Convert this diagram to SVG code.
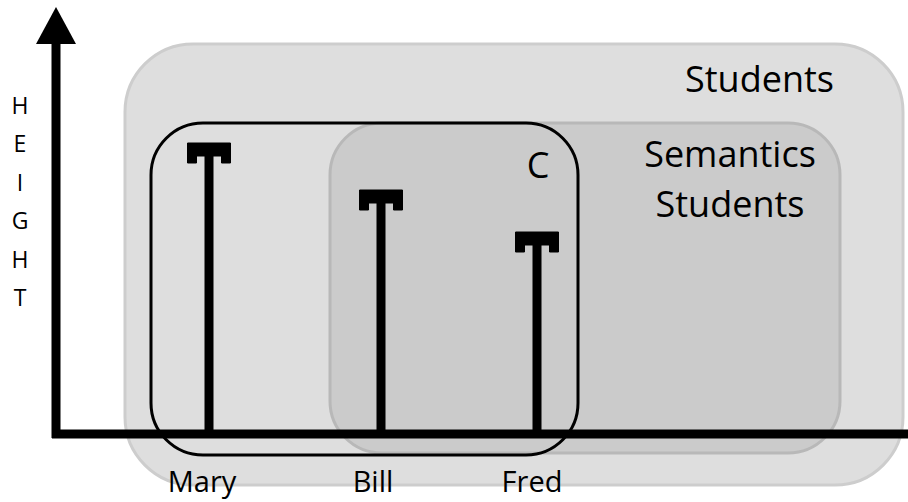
<svg xmlns="http://www.w3.org/2000/svg" width="908" height="502" viewBox="0 0 908 502">
  <style>
    .lbl { font-family: "Open Sans", "Liberation Sans", sans-serif; fill: #000; }
    .big { font-size: 36px; }
    .name { font-size: 29px; text-anchor: middle; }
    .axislbl { font-size: 23px; text-anchor: middle; }
    .stem { stroke: #000; stroke-width: 9; fill: none; }
    .cap { fill: #000; stroke: #000; stroke-width: 1; stroke-linejoin: round; }
    .axis { stroke: #000; stroke-width: 9; fill: none; }
  </style>
  <defs>
    <!-- flat-topped cap placed on top of each height bar -->
    <path id="capShape" d="M-21.5,0 H21.5 V20 H12.5 V13 H-12.5 V20 H-21.5 Z"/>
  </defs>

  <!-- set of all students -->
  <g id="students">
    <rect x="125" y="44" width="778" height="441" rx="68" ry="68" fill="#dedede" stroke="#cdcdcd" stroke-width="3"/>
    <text class="lbl big" x="685" y="92">Students</text>
  </g>

  <!-- semantics students subset -->
  <g id="semantics-students">
    <rect x="330" y="123" width="510" height="330" rx="52" ry="52" fill="#cbcbcb" stroke="#b8b8b8" stroke-width="3"/>
    <text class="lbl big" x="730" y="167" text-anchor="middle">Semantics</text>
    <text class="lbl big" x="730" y="217" text-anchor="middle">Students</text>
  </g>

  <!-- comparison class C -->
  <g id="comparison-class">
    <rect x="151" y="123" width="427" height="332" rx="52" ry="52" fill="none" stroke="#000" stroke-width="3"/>
    <text class="lbl big" x="538" y="178" text-anchor="middle">C</text>
  </g>

  <!-- axes -->
  <g id="connectors">
    <line class="axis" x1="56" y1="40" x2="56" y2="438"/>
    <line class="axis" x1="52" y1="434" x2="908" y2="434"/>
    <polygon points="56,7 76,44 36,44" fill="#000"/>
  </g>

  <g id="height-label">
    <text class="lbl axislbl" x="20" y="114">H</text>
    <text class="lbl axislbl" x="20" y="152">E</text>
    <text class="lbl axislbl" x="20" y="191">I</text>
    <text class="lbl axislbl" x="20" y="229">G</text>
    <text class="lbl axislbl" x="20" y="268">H</text>
    <text class="lbl axislbl" x="20" y="306">T</text>
  </g>

  <!-- individuals -->
  <g id="mary">
    <line class="stem" x1="209" y1="150" x2="209" y2="434"/>
    <use href="#capShape" class="cap" transform="translate(209,143)"/>
    <text class="lbl name" x="202" y="492">Mary</text>
  </g>
  <g id="bill">
    <line class="stem" x1="381" y1="197" x2="381" y2="434"/>
    <use href="#capShape" class="cap" transform="translate(381,190)"/>
    <text class="lbl name" x="373" y="492">Bill</text>
  </g>
  <g id="fred">
    <line class="stem" x1="537" y1="239" x2="537" y2="434"/>
    <use href="#capShape" class="cap" transform="translate(537,232)"/>
    <text class="lbl name" x="532" y="492">Fred</text>
  </g>
</svg>
